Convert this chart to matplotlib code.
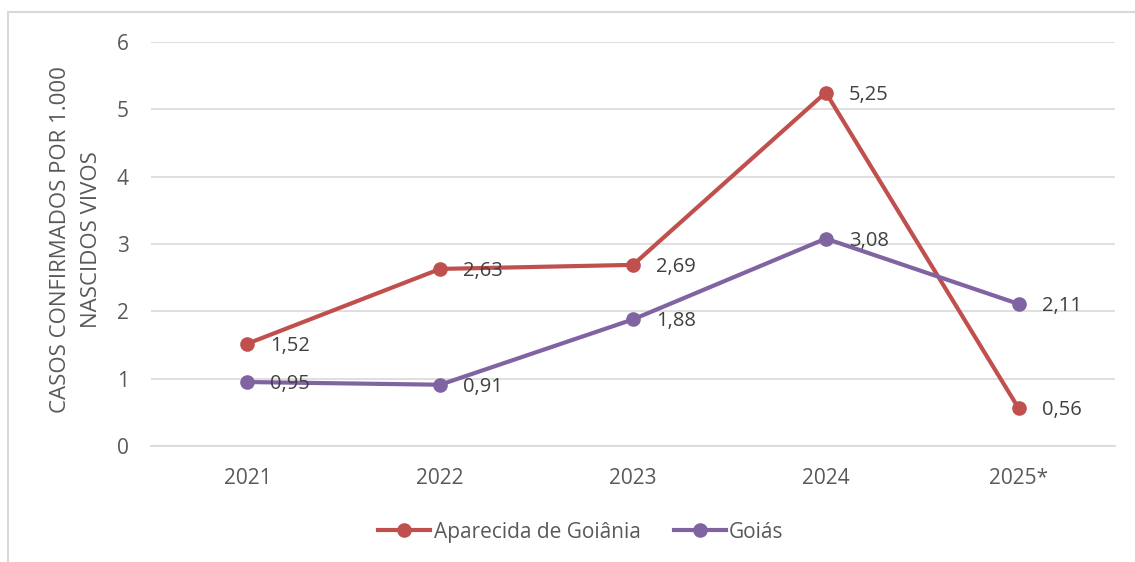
import matplotlib.pyplot as plt
from matplotlib.patches import Rectangle

anos = ["2021", "2022", "2023", "2024", "2025*"]
aparecida = [1.52, 2.63, 2.69, 5.25, 0.56]
goias = [0.95, 0.91, 1.88, 3.08, 2.11]

cor_aparecida = "#C0504D"
cor_goias = "#8064A2"
cinza_texto = "#595959"
cinza_grade = "#D9D9D9"

plt.rcParams["font.family"] = ["Open Sans", "DejaVu Sans"]

fig = plt.figure(figsize=(11.35, 5.62), dpi=100)

# moldura do gráfico
fig.patches.append(Rectangle((8 / 1135, -0.1), 1.2, 1 - 12 / 562 + 0.1,
                             transform=fig.transFigure, fill=False,
                             edgecolor=cinza_grade, linewidth=1.5))

ax = fig.add_axes([151 / 1135, 1 - 446 / 562, (1115 - 151) / 1135, (446 - 42) / 562])

x = range(len(anos))
ax.plot(x, aparecida, color=cor_aparecida, linewidth=3, marker="o",
        markersize=9.5, label="Aparecida de Goiânia", zorder=3)
ax.plot(x, goias, color=cor_goias, linewidth=3, marker="o",
        markersize=9.5, label="Goiás", zorder=3)

for serie in (aparecida, goias):
    for i, v in enumerate(serie):
        ax.annotate(f"{v:.2f}".replace(".", ","), (i, v),
                    xytext=(16.5, -1.5), textcoords="offset points",
                    ha="left", va="center", fontsize=14.5,
                    color="#404040", zorder=4)

ax.set_xlim(-0.5, 4.5)
ax.set_ylim(0, 6)
ax.set_xticks(list(x))
ax.set_xticklabels(anos)
ax.set_yticks(range(0, 7))

ax.grid(axis="y", color=cinza_grade, linewidth=1.2)
ax.set_axisbelow(True)
for s in ax.spines.values():
    s.set_visible(False)
ax.spines["bottom"].set_visible(True)
ax.spines["bottom"].set_color(cinza_grade)
ax.spines["bottom"].set_linewidth(1.2)

ax.tick_params(axis="both", length=0, labelsize=15, labelcolor=cinza_texto)
ax.tick_params(axis="x", pad=16)
ax.tick_params(axis="y", pad=16)

fig.text(76 / 1135, 1 - 240 / 562, "CASOS CONFIRMADOS POR 1.000\nNASCIDOS VIVOS",
         rotation=90, ha="center", va="center", multialignment="center",
         fontsize=16, color=cinza_texto, linespacing=1.6)

ax.legend(loc="center", bbox_to_anchor=(0.446, -0.213), ncol=2, frameon=False,
          fontsize=15, labelcolor=cinza_texto, handlelength=2.5,
          handletextpad=0.15, columnspacing=1.6)

plt.savefig("out.png", dpi=100)
